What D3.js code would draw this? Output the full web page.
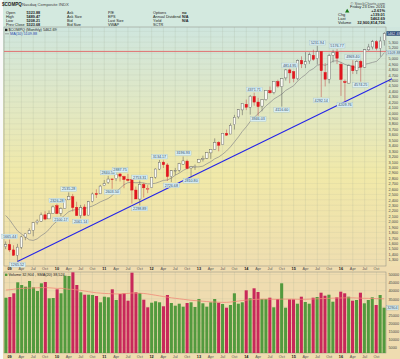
<!DOCTYPE html>
<html><head><meta charset="utf-8">
<script src="https://cdn.jsdelivr.net/npm/d3@7"></script>
<style>body{margin:0;background:#fff}svg{display:block;font-family:"Liberation Sans",Arial,sans-serif}</style>
</head><body><svg id="c" width="400" height="359"></svg>
<script>
// ---------- DATA (monthly, Dec 2008 .. Dec 2016) ----------
const months = d3.timeMonth.range(new Date(2008,11,1), new Date(2017,0,1));
const opens = [1535.57,1578.87,1478.0,1377.0,1526.0,1715.0,1774.0,1838.0,1979.0,2006.0,2124.0,2049.0,2150.0,
 2294.0,2152.0,2240.0,2400.0,2458.0,2263.0,2109.0,2268.0,2118.0,2371.0,2514.0,2510.0,
 2661.0,2716.0,2784.0,2787.0,2876.0,2830.0,2780.0,2770.0,2580.0,2414.0,2683.0,2600.0,
 2624.0,2815.0,2965.0,3093.0,3042.0,2826.0,2939.0,2945.0,3056.0,3113.0,2986.0,3015.0,
 3091.0,3145.0,3166.0,3264.0,3326.0,3457.0,3414.0,3626.0,3611.0,3783.0,3926.0,4055.0,
 4160.0,4103.0,4303.0,4200.0,4125.0,4243.0,4410.0,4376.0,4580.0,4484.0,4644.0,4792.0,
 4760.0,4631.0,4969.0,4890.0,4956.0,5061.0,5001.0,5133.0,4746.0,4621.0,5060.0,5122.0,
 4897.0,4577.0,4548.0,4866.0,4786.0,4950.0,4839.0,5161.0,5214.0,5311.0,5184.0,5328.0];
const highs = [1634.0,1665.44,1563.6,1588.7,1736.9,1775.0,1877.0,1985.6,2041.0,2167.0,2190.0,2203.8,2295.8,
 2326.28,2262.0,2415.0,2535.28,2509.0,2365.0,2305.0,2317.0,2380.0,2534.0,2592.9,2675.0,
 2766.0,2840.51,2789.0,2876.0,2887.75,2844.0,2878.0,2784.0,2645.0,2753.31,2712.0,2670.0,
 2819.0,2979.0,3134.17,3123.0,3075.0,2945.0,2987.0,3080.0,3196.93,3140.0,3024.0,3050.0,
 3154.0,3213.0,3270.0,3336.0,3532.0,3478.0,3629.0,3693.0,3807.0,3964.0,4069.0,4177.0,
 4246.55,4330.0,4371.71,4277.0,4247.0,4409.0,4485.93,4580.0,4610.57,4641.0,4810.0,4814.95,
 4777.0,4984.0,5042.14,5119.83,5111.5,5164.36,5231.94,5134.0,4917.0,5086.0,5163.0,5176.77,
 4926.7,4614.0,4896.0,4969.40,4971.0,4980.0,5176.0,5271.0,5342.88,5339.0,5402.0,5487.44];
const lows = [1493.0,1440.9,1374.0,1265.52,1493.6,1656.0,1769.0,1727.0,1946.0,1993.0,2024.0,2052.0,2152.0,
 2138.0,2100.17,2240.0,2396.0,2185.0,2108.0,2061.14,2101.0,2116.0,2352.0,2434.0,2510.0,
 2660.0,2692.0,2603.50,2744.0,2737.0,2614.0,2737.0,2331.0,2414.0,2298.89,2441.0,2521.0,
 2624.0,2790.0,2947.0,2986.0,2747.0,2726.68,2855.0,2909.0,3044.0,2961.0,2810.80,2951.0,
 3091.0,3105.0,3150.0,3154.0,3318.0,3294.0,3414.0,3578.0,3611.0,3694.0,3894.0,3958.0,
 4051.0,3968.19,4133.0,3946.03,4030.0,4224.0,4352.0,4342.0,4462.0,4116.60,4596.0,4547.0,
 4563.11,4601.0,4825.0,4825.0,4903.0,4959.0,4892.0,4292.14,4487.0,4543.0,4929.0,4899.0,
 4313.39,4209.76,4542.0,4717.0,4715.0,4574.25,4829.0,5145.0,5169.0,5153.0,5034.41,5240.0];
const closes = [1577.03,1476.42,1377.84,1528.59,1717.30,1774.33,1835.04,1978.50,2009.06,2122.42,2045.11,2144.60,2269.15,
 2147.35,2238.26,2397.96,2461.19,2257.04,2109.24,2254.70,2114.03,2368.62,2507.41,2498.23,2652.87,
 2700.08,2782.27,2781.07,2873.54,2835.30,2773.52,2756.38,2579.46,2415.40,2684.41,2620.34,2605.15,
 2813.84,2966.89,3091.57,3046.36,2827.34,2935.05,2939.52,3066.96,3116.23,2977.23,3010.24,3019.51,
 3142.13,3160.19,3267.52,3328.79,3455.91,3403.25,3626.37,3589.87,3771.48,3919.71,4059.89,4176.59,
 4103.88,4308.12,4198.99,4114.56,4242.62,4408.18,4369.77,4580.27,4493.39,4630.74,4791.63,4736.05,
 4635.24,4963.53,4900.88,4941.42,5070.03,4986.87,5128.28,4776.51,4620.16,5053.75,5108.67,5007.41,
 4613.95,4557.95,4869.85,4775.36,4948.05,4842.67,5162.13,5213.22,5312.00,5189.14,5323.68,5462.69];
// closes of the 9 months before the first candle (Mar..Nov 2008), for the MA(10)
const priorCloses = [2279.10,2412.80,2522.66,2292.98,2325.55,2367.52,2091.88,1720.95,1535.57];
const volumes = [35679,36111,38395,45185,43519,42469,45988,42099,39815,44568,45370,35309,35494,
 40864,38395,49259,49074,51358,43519,39012,37531,37531,37346,36728,32840,
 36296,35926,40864,34259,37963,38395,33827,51111,39012,38580,34444,29753,
 32593,33457,32840,30370,37346,32407,30741,31975,30123,32407,32840,29938,
 34877,32222,30123,32840,34877,32593,31790,29506,31173,38395,31975,32840,
 40247,35309,41481,39198,34877,34877,35679,29753,34877,44568,29506,34691,
 34691,31975,36296,33025,31975,35679,36111,38765,36914,37531,33210,35926,
 39383,38395,36296,33827,34259,38765,32222,34259,35926,31173,37346,29506];
const volSma = [40400,40600,40900,41200,41400,41500,41600,41700,41800,41900,41900,41800,41600,
 41400,41500,41200,40900,40800,40500,40200,39800,39400,39000,38700,38500,
 38300,38200,38100,38000,38100,38200,38300,38600,38500,38400,38300,38000,
 37600,37200,36800,36400,36000,35600,35300,35000,34700,34400,34100,33900,
 33700,33500,33300,33100,33000,32900,32800,32800,33000,33300,33600,33900,
 34200,34400,34600,34700,34800,34800,34800,34700,34700,34800,34800,34800,
 34800,34700,34700,34700,34800,34900,35000,35100,35200,35300,35400,35500,
 35500,35600,35600,35600,35500,35400,35300,35300,35200,35100,35000,35000];
const labelIdx  = [1,3,13,14,16,19,26,27,29,34,34,39,42,45,47,63,64,70,72,79,80,84,86,88,90];
const labelKind = ["h","l","h","l","h","l","h","l","h","l","h","h","l","h","l","h","l","l","h","h","l","h","l","h","l"];
const priceTicks = d3.range(1300, 5600, 100);
const volTicks = d3.range(5000, 55000, 5000);
const trendStart = 3, trendPrices = [1265.52, 4630];   // trendline from the Mar-2009 low to the right edge
const hLine = 5132.52;
const monthNames = ["Jan","Feb","Mar","Apr","May","Jun","Jul","Aug","Sep","Oct","Nov","Dec"];

// ---------- LAYOUT ----------
const svg = d3.select("#c");
const X0 = 4, X1 = 386, PY0 = 27, PY1 = 266, VY0 = 272, VY1 = 353;
const n = closes.length;
const x = d3.scaleBand().domain(d3.range(n)).range([X0, X1]).paddingInner(0.38).paddingOuter(0.1);
const xv = d3.scaleBand().domain(d3.range(n)).range([X0, X1]).paddingInner(0.22).paddingOuter(0.1);
const cx = i => x(i) + x.bandwidth() / 2;
const y = d3.scaleLinear().domain([1200, 5600]).range([265, 26]);
const vy = d3.scaleLinear().domain([0, 50000]).range([355.5, 274.5]);

const defs = svg.append("defs");
const g1 = defs.append("linearGradient").attr("id","pg").attr("x1",0).attr("y1",0).attr("x2",0).attr("y2",1);
[["0%","#cfe6de"],["38%","#e4e8bf"],["62%","#f1e9a8"],["100%","#efdeb0"]].forEach(s=>g1.append("stop").attr("offset",s[0]).attr("stop-color",s[1]));
defs.append("clipPath").attr("id","pc").append("rect").attr("x",X0).attr("y",PY0).attr("width",X1-X0+8).attr("height",PY1-PY0);
defs.append("clipPath").attr("id","vc").append("rect").attr("x",X0).attr("y",VY0).attr("width",X1-X0).attr("height",VY1-VY0);

// backgrounds
svg.append("rect").attr("x",0).attr("y",0).attr("width",400).attr("height",PY0).attr("fill","#d3e9df");
svg.append("rect").attr("x",0).attr("y",PY0).attr("width",400).attr("height",PY1-PY0).attr("fill","url(#pg)");
svg.append("rect").attr("x",0).attr("y",PY1).attr("width",400).attr("height",359-PY1).attr("fill","#efdcb0");
svg.append("rect").attr("x",0).attr("y",0).attr("width",X0-1).attr("height",359).attr("fill","#fafafa");

// ---------- HEADER ----------
const hdr = svg.append("g").attr("font-size",3.8).attr("fill","#222");
hdr.append("text").attr("x",2).attr("y",6).attr("font-weight","bold").attr("font-size",4.6).text("$COMPQ");
hdr.append("text").attr("x",22).attr("y",6).attr("font-size",4.2).attr("fill","#444").text("Nasdaq Composite  INDX");
const cols = [
  {x:6, vx:26.5, rows:[["Open","5323.88"],["High","5489.47"],["Low","5208.21"],["Prev Close","5323.68"]]},
  {x:67, vx:92, rows:[["Ask",""],["Ask Size",""],["Bid",""],["Bid Size",""]]},
  {x:108, vx:135, rows:[["P/E",""],["EPS",""],["Last Size",""],["VWAP",""]]},
  {x:153, vx:182, rows:[["Options","no"],["Annual Dividend","N/A"],["Yield","N/A"],["SCTR",""]]}];
cols.forEach(c=>c.rows.forEach((r,k)=>{
  hdr.append("text").attr("x",c.x).attr("y",14+k*4.1).text(r[0]);
  hdr.append("text").attr("x",c.vx).attr("y",14+k*4.1).attr("font-weight","bold").text(r[1]);
}));
const rh = svg.append("g").attr("font-size",4).attr("fill","#222");
rh.append("text").attr("x",385).attr("y",4.5).attr("text-anchor","end").attr("fill","#555").text("© StockCharts.com");
rh.append("text").attr("x",385).attr("y",8.3).attr("text-anchor","end").text("Friday 23 Dec 2016");
rh.append("path").attr("d","M345,12.5 L347.2,8.8 L349.4,12.5 Z").attr("fill","#1a7a1a");
rh.append("text").attr("x",385).attr("y",12.4).attr("text-anchor","end").attr("font-weight","bold").text("+2.61%");
[["Chg","+139.01"],["Last","5462.69"],["Volume","32,900,814,706"]].forEach((r,k)=>{
  rh.append("text").attr("x",338).attr("y",16.3+k*4).text(r[0]);
  rh.append("text").attr("x",385).attr("y",16.3+k*4).attr("text-anchor","end").attr("font-weight","bold").text(r[1]);
});

// ---------- GRID ----------
const quarterIdx = d3.range(n).filter(i => months[i].getMonth() % 3 === 0);
const grid = svg.append("g").attr("stroke","#9aa890").attr("stroke-opacity",0.35).attr("stroke-width",0.5);
priceTicks.forEach(t=>grid.append("line").attr("x1",X0).attr("x2",X1).attr("y1",y(t)).attr("y2",y(t)).attr("stroke-opacity",0.22));
volTicks.forEach(t=>grid.append("line").attr("x1",X0).attr("x2",X1).attr("y1",vy(t)).attr("y2",vy(t)).attr("stroke-opacity",0.25));
quarterIdx.forEach(i=>{
  grid.append("line").attr("x1",cx(i)).attr("x2",cx(i)).attr("y1",PY0).attr("y2",PY1);
  grid.append("line").attr("x1",cx(i)).attr("x2",cx(i)).attr("y1",VY0).attr("y2",VY1);
});

// panel borders
[[PY0,PY1],[VY0,VY1]].forEach(p=>svg.append("rect").attr("x",X0).attr("y",p[0]).attr("width",X1-X0).attr("height",p[1]-p[0]).attr("fill","none").attr("stroke","#8a8a80").attr("stroke-width",0.5));

// ---------- PRICE PANEL ----------
const pp = svg.append("g").attr("clip-path","url(#pc)");
pp.append("line").attr("x1",X0).attr("x2",X1).attr("y1",y(hLine)).attr("y2",y(hLine)).attr("stroke","#e07070").attr("stroke-width",1);
pp.append("line").attr("x1",cx(trendStart)).attr("y1",y(trendPrices[0])).attr("x2",X1+6).attr("y2",y(trendPrices[1]))
  .attr("stroke","#2424e8").attr("stroke-width",1.1);
const allCloses = priorCloses.concat(closes);
const ma = closes.map((c,i)=>d3.mean(allCloses.slice(i, i+10)));
pp.append("path").attr("d", d3.line().x((d,i)=>cx(i)).y(d=>y(d))(ma)).attr("fill","none").attr("stroke","#8a8a8a").attr("stroke-width",0.7);
const prevClose = i => i===0 ? priorCloses[priorCloses.length-1] : closes[i-1];
const cg = pp.append("g");
d3.range(n).forEach(i=>{
  const o=opens[i], c=closes[i], red = c < prevClose(i);
  const col = red ? "#e0161e" : "#3a3a3a";
  cg.append("line").attr("x1",cx(i)).attr("x2",cx(i)).attr("y1",y(highs[i])).attr("y2",y(lows[i])).attr("stroke", red ? "#c04040" : "#555").attr("stroke-width",0.5);
  const top = y(Math.max(o,c)), bot = y(Math.min(o,c));
  cg.append("rect").attr("x",x(i)).attr("y",top).attr("width",x.bandwidth()).attr("height",Math.max(0.6,bot-top))
    .attr("fill", c>=o ? "#fbfbf4" : col).attr("stroke", c>=o ? (red?"#e0161e":"#555") : col).attr("stroke-width",0.4);
});
const lg = svg.append("g").attr("font-size",3.7);
labelIdx.forEach((i,k)=>{
  const isH = labelKind[k]==="h";
  const v = isH ? highs[i] : lows[i];
  const txt = v.toFixed(2), w = txt.length*2.05+1.5, h = 4.6;
  const yy = isH ? y(v)-h-1 : y(v)+1;
  lg.append("rect").attr("x",cx(i)-w/2).attr("y",yy).attr("width",w).attr("height",h).attr("fill","#d9eef3").attr("stroke","#9bb8c4").attr("stroke-width",0.3);
  lg.append("text").attr("x",cx(i)).attr("y",yy+3.5).attr("text-anchor","middle").attr("fill","#34506a").text(txt);
});
svg.append("rect").attr("x",5).attr("y",28.7).attr("width",2.4).attr("height",2.4).attr("fill","#222");
svg.append("text").attr("x",8.5).attr("y",31.2).attr("font-size",3.8).attr("fill","#222").text("$COMPQ (Monthly) 5462.69");
svg.append("line").attr("x1",5).attr("x2",9).attr("y1",33.8).attr("y2",33.8).attr("stroke","#8a8a8a").attr("stroke-width",0.8);
svg.append("text").attr("x",10).attr("y",35.2).attr("font-size",3.8).attr("fill","#2a4ab0").text("MA(10) " + ma[n-1].toFixed(2));

const tagYs = [y(closes[n-1]), y(ma[n-1])];
const ya = svg.append("g").attr("transform",`translate(${X1+1},0)`)
  .call(d3.axisRight(y).tickValues(priceTicks.filter(t=>tagYs.every(ty=>Math.abs(y(t)-ty)>4.8))).tickSize(0).tickPadding(1.5));
ya.select(".domain").remove();
ya.selectAll("text").attr("font-size",3.8).attr("fill","#444").attr("font-family","Liberation Sans, Arial");
function tag(yv, txt, fill, tc){
  const w = txt.length*2.05+1.5;
  svg.append("rect").attr("x",X1+0.5).attr("y",yv-2.3).attr("width",w).attr("height",4.6).attr("fill",fill).attr("stroke","#7a9aa8").attr("stroke-width",0.3);
  svg.append("text").attr("x",X1+1.2).attr("y",yv+1.3).attr("font-size",3.7).attr("fill",tc).text(txt);
}
tag(tagYs[0], closes[n-1].toFixed(2), "#1c3a6a", "#fff");
tag(tagYs[1], ma[n-1].toFixed(2), "#d9eef3", "#34506a");

function xLabels(yy){
  const g = svg.append("g").attr("font-size",3.8).attr("fill","#555");
  quarterIdx.forEach(i=>{
    const m = months[i].getMonth();
    const t = m===0 ? String(months[i].getFullYear()).slice(2) : monthNames[m];
    g.append("text").attr("x",cx(i)).attr("y",yy).attr("text-anchor","middle")
      .attr("font-weight", m===0 ? "bold":"normal").attr("fill", m===0 ? "#111":"#555").text(t);
  });
}
xLabels(270);
xLabels(357.8);

// ---------- VOLUME PANEL ----------
const vp = svg.append("g").attr("clip-path","url(#vc)");
d3.range(n).forEach(i=>{
  const red = closes[i] < prevClose(i);
  vp.append("rect").attr("x",xv(i)).attr("y",vy(volumes[i])).attr("width",xv.bandwidth()).attr("height",VY1-vy(volumes[i]))
    .attr("fill", red ? "#c8285a" : "#539a3e");
});
vp.append("path").attr("d", d3.line().x((d,i)=>xv(i)+xv.bandwidth()/2).y(d=>vy(d))(volSma)).attr("fill","none").attr("stroke","#f08a78").attr("stroke-width",0.8);
svg.append("rect").attr("x",5).attr("y",273.6).attr("width",2.4).attr("height",2.4).attr("fill","#539a3e");
svg.append("text").attr("x",8.5).attr("y",276.1).attr("font-size",3.8).attr("fill","#222").text("Volume 32,904 , SMA(20) 38,524");
const vTagY = vy(volumes[n-1]);
const va = svg.append("g").attr("transform",`translate(${X1+1},0)`)
  .call(d3.axisRight(vy).tickValues(volTicks.filter(t=>Math.abs(vy(t)-vTagY)>4.8)).tickSize(0).tickPadding(1.5).tickFormat(d3.format("d")));
va.select(".domain").remove();
va.selectAll("text").attr("font-size",3.8).attr("fill","#444").attr("font-family","Liberation Sans, Arial");
tag(vTagY, "32904", "#d9eef3", "#34506a");
</script></body></html>
